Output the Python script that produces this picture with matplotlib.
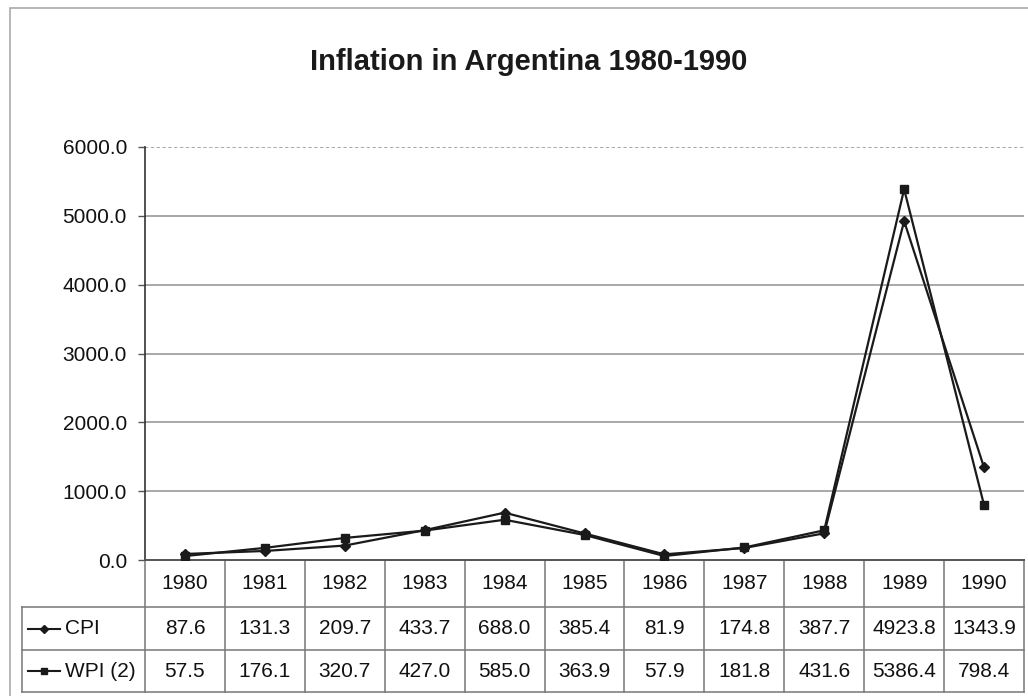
import matplotlib.pyplot as plt
import matplotlib.transforms as mtransforms
from matplotlib.lines import Line2D
from matplotlib.patches import Rectangle

plt.rcParams['font.family'] = ['Liberation Sans', 'DejaVu Sans']

years = ['1980', '1981', '1982', '1983', '1984', '1985', '1986', '1987', '1988', '1989', '1990']
cpi = [87.6, 131.3, 209.7, 433.7, 688.0, 385.4, 81.9, 174.8, 387.7, 4923.8, 1343.9]
wpi = [57.5, 176.1, 320.7, 427.0, 585.0, 363.9, 57.9, 181.8, 431.6, 5386.4, 798.4]
row_names = ['CPI', 'WPI (2)']
y_ticks = [0, 1000, 2000, 3000, 4000, 5000, 6000]

fig = plt.figure(figsize=(10.28, 6.96), dpi=100)
ax = fig.add_axes([145/1028, 1 - 560/696, 879/1028, 413/696])

# outer chart border
fig.patches.append(Rectangle((10/1028, -0.1), 1.2, 1 - 8/696 + 0.1, transform=fig.transFigure,
                             fill=False, edgecolor='#aaaaaa', lw=1.2))

x = list(range(len(years)))
ax.plot(x, cpi, color='#1a1a1a', lw=1.6, marker='D', ms=5, label='CPI', zorder=3)
ax.plot(x, wpi, color='#1a1a1a', lw=1.6, marker='s', ms=6, label='WPI (2)', zorder=3)

ax.set_xlim(-0.5, len(years) - 0.5)
ax.set_ylim(0, 6000)
ax.set_yticks(y_ticks)
ax.set_yticklabels(['%.1f' % v for v in y_ticks], fontsize=15, color='#111111')
ax.set_xticks([])
for v in y_ticks[1:-1]:
    ax.axhline(v, color='#999999', lw=1.2, zorder=1)
ax.axhline(6000, color='#999999', lw=1.2, ls=(0, (2, 1.5)), zorder=1)
ax.tick_params(axis='y', length=5, width=1, color='#555555', pad=8)
for s in ['top', 'right']:
    ax.spines[s].set_visible(False)
ax.spines['left'].set_color('#333333')
ax.spines['bottom'].set_color('#555555')
ax.spines['left'].set_linewidth(1.2)
ax.spines['bottom'].set_linewidth(1.4)

fig.text(529/1028, 1 - 62/696, 'Inflation in Argentina 1980-1990', ha='center', va='center',
         fontsize=21, fontweight='bold', color='#1a1a1a')

# data table under the axis
tr = mtransforms.blended_transform_factory(ax.transData, ax.transAxes)
row_edges = [0, -0.114, -0.218, -0.320]
left_label = -0.5 - 123/79.9
grid_kw = dict(transform=tr, color='#777777', lw=1.1, clip_on=False)
for i in range(len(years) + 1):
    ax.add_line(Line2D([i - 0.5, i - 0.5], [0, row_edges[-1]], **grid_kw))
ax.add_line(Line2D([left_label, left_label], [row_edges[1], row_edges[-1]], **grid_kw))
for r in row_edges[1:]:
    ax.add_line(Line2D([left_label, len(years) - 0.5], [r, r], **grid_kw))

ymid = [(row_edges[k] + row_edges[k + 1]) / 2 for k in range(3)]
for i, yr in enumerate(years):
    ax.text(i, ymid[0], yr, transform=tr, ha='center', va='center', fontsize=15, color='#111111')
    ax.text(i, ymid[1], '%.1f' % cpi[i], transform=tr, ha='center', va='center', fontsize=15, color='#111111')
    ax.text(i, ymid[2], '%.1f' % wpi[i], transform=tr, ha='center', va='center', fontsize=15, color='#111111')

for k, (name, mk) in enumerate(zip(row_names, ['D', 's'])):
    yy = ymid[k + 1]
    ax.add_line(Line2D([left_label + 0.07, left_label + 0.47], [yy, yy], transform=tr, color='#1a1a1a',
                       lw=1.5, clip_on=False))
    ax.add_line(Line2D([left_label + 0.27], [yy], transform=tr, color='#1a1a1a', marker=mk,
                       ms=4.5 if mk == 'D' else 5, clip_on=False))
    ax.text(left_label + 0.54, yy, name, transform=tr, ha='left', va='center', fontsize=15, color='#111111')

fig.savefig('out.png', dpi=100)
